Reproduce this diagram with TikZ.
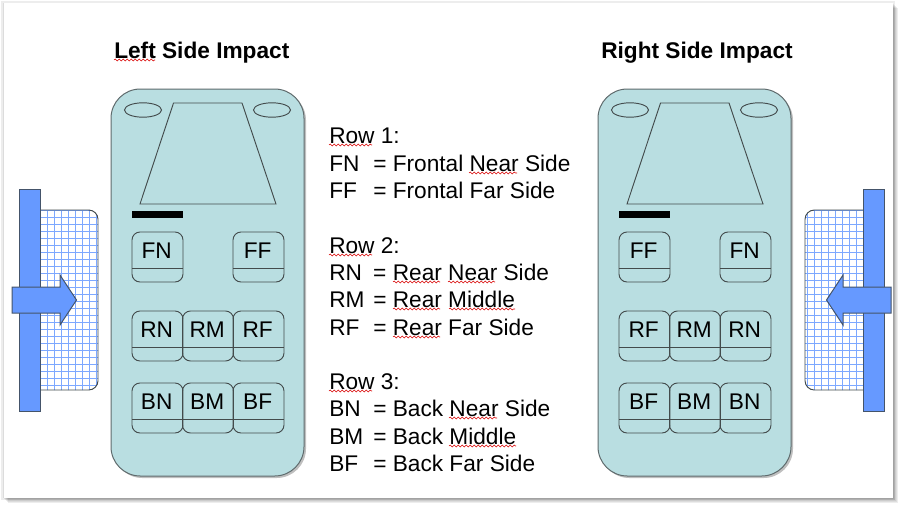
\documentclass[tikz,border=0pt]{standalone}
\usepackage{fontspec}
\setmainfont{Liberation Sans}
\usetikzlibrary{decorations.pathmorphing,shapes.geometric}
\definecolor{carfill}{HTML}{B9DEE1}
\definecolor{edgegray}{HTML}{5F6B6D}
\definecolor{impactblue}{HTML}{6699FF}
\definecolor{impactedge}{HTML}{44546A}
\tikzset{
  x=0.75pt,y=-0.75pt,
  carbody/.style={draw=edgegray,line width=0.75pt,fill=carfill,rounded corners=22pt},
  outline/.style={draw=edgegray!70!black,line width=0.7pt},
  seatlabel/.style={font=\fontsize{17}{18}\selectfont,inner sep=0pt,text=black},
  legend/.style={font=\fontsize{17}{18}\selectfont,inner sep=0pt,anchor=base west,text=black},
  titletext/.style={font=\fontsize{17}{18}\selectfont\bfseries,inner sep=0pt,anchor=base west},
  squiggle/.style={draw=red!85!black,line width=0.4pt,decorate,decoration={snake,segment length=3pt,amplitude=0.7pt}},
  blueshape/.style={draw=impactedge,line width=0.75pt,fill=impactblue},
  meshline/.style={draw=impactblue!85,line width=0.55pt},
  softshadow/.style={fill=black,fill opacity=0.07,draw=none}
}
% one seat: name, x, y, text
\newcommand{\seat}[4]{%
  \draw[outline,rounded corners=6pt] (#2,#3) rectangle ++(51,50);
  \draw[outline] (#2,#3+36) -- ++(51,0);
  \node[seatlabel] (#1) at (#2+24.7,#3+18.5) {#4};
}
% one car: prefix, x offset, and the six row labels
\newcommand{\car}[8]{%
  \fill[black,opacity=0.25,rounded corners=22pt] (#2+113,91) rectangle (#2+306,478);
  \path[carbody] (#2+111,89) rectangle (#2+304,476);
  \draw[outline] (#2+143,110) ellipse [x radius=18.5,y radius=7.2];
  \draw[outline] (#2+272,110) ellipse [x radius=18.5,y radius=7.2];
  \draw[outline] (#2+173.5,103) -- (#2+242,103) -- (#2+276,204) -- (#2+140,204) -- cycle;
  \fill[black] (#2+132,210.5) rectangle (#2+183,218);
  \seat{#1a}{#2+132}{232}{#3}
  \seat{#1b}{#2+233}{232}{#4}
  \seat{#1c}{#2+132}{311}{#5}
  \seat{#1d}{#2+182.5}{311}{RM}
  \seat{#1e}{#2+233}{311}{#6}
  \seat{#1f}{#2+132}{383}{#7}
  \seat{#1g}{#2+182.5}{383}{BM}
  \seat{#1h}{#2+233}{383}{#8}
}
\newcommand{\legline}[3]{\node[legend] at (329,#1) {\makebox[33pt][l]{#2}= #3};}
% mesh lines inside the current clip: x0, x1
\newcommand{\meshgrid}[2]{%
  \foreach \k in {0,...,14}{\draw[meshline] ({#1+7*\k},205) -- ({#1+7*\k},395);}
  \foreach \k in {0,...,26}{\draw[meshline] (#1-7,{210.5+7*\k}) -- (#2,{210.5+7*\k});}
}
\begin{document}
\begin{tikzpicture}
\useasboundingbox (0,0) rectangle (902,508);
\fill[white] (0,0) rectangle (902,508);
% slide shadow
\foreach \d in {0,1,2,3,4,5}{
  \path[softshadow] (3+\d,3+\d) rectangle (893+\d,498+\d);
}
\path[softshadow] (1,1) rectangle (895,500);
\fill[white] (4,3) rectangle (893,498);
% titles
\node[titletext] (lefttitle) at (114,58) {Left Side Impact};
\node[titletext] (righttitle) at (601,58) {Right Side Impact};
\draw[squiggle] (114,60) -- (155,60);
% cars
\car{l}{0}{FN}{FF}{RN}{RF}{BN}{BF}
\car{r}{487}{FF}{FN}{RF}{RN}{BF}{BN}
% left impactor
\begin{scope}
  \clip[rounded corners=7pt] (30,210) -- (98,210) -- (98,390) -- (30,390) -- cycle;
  \fill[white] (30,210) rectangle (98,390);
  \meshgrid{40}{105}
\end{scope}
\draw[outline,rounded corners=7pt] (40,210) -- (98,210) -- (98,390) -- (40,390);
\path[blueshape] (19,189) rectangle (40,411);
\path[blueshape] (12,287) -- (60,287) -- (60,275) -- (76.5,300) -- (60,325) -- (60,313) -- (12,313) -- cycle;
% right impactor
\begin{scope}
  \clip[rounded corners=7pt] (873,210) -- (805,210) -- (805,390) -- (873,390) -- cycle;
  \fill[white] (805,210) rectangle (873,390);
  \meshgrid{765}{870}
\end{scope}
\draw[outline,rounded corners=7pt] (863,210) -- (805,210) -- (805,390) -- (863,390);
\path[blueshape] (863,189) rectangle (884,411);
\path[blueshape] (891,287) -- (843,287) -- (843,275) -- (826.5,300) -- (843,325) -- (843,313) -- (891,313) -- cycle;
% legend
\node[legend] at (329,143) {Row 1:};
\legline{171}{FN}{Frontal Near Side}
\legline{198}{FF}{Frontal Far Side}
\node[legend] at (329,253) {Row 2:};
\legline{280}{RN}{Rear Near Side}
\legline{307}{RM}{Rear Middle}
\legline{335}{RF}{Rear Far Side}
\node[legend] at (329,389) {Row 3:};
\legline{416}{BN}{Back Near Side}
\legline{444}{BM}{Back Middle}
\legline{471}{BF}{Back Far Side}
% spelling marks
\foreach \a/\b/\y in {329/372/145,469/517/173,329/372/255,393/440/282,448/495/282,393/440/309,449/515/309,393/440/337,329/372/391,449/497/418,449/516/446}{
  \draw[squiggle] (\a,\y) -- (\b,\y);
}
\end{tikzpicture}
\end{document}
